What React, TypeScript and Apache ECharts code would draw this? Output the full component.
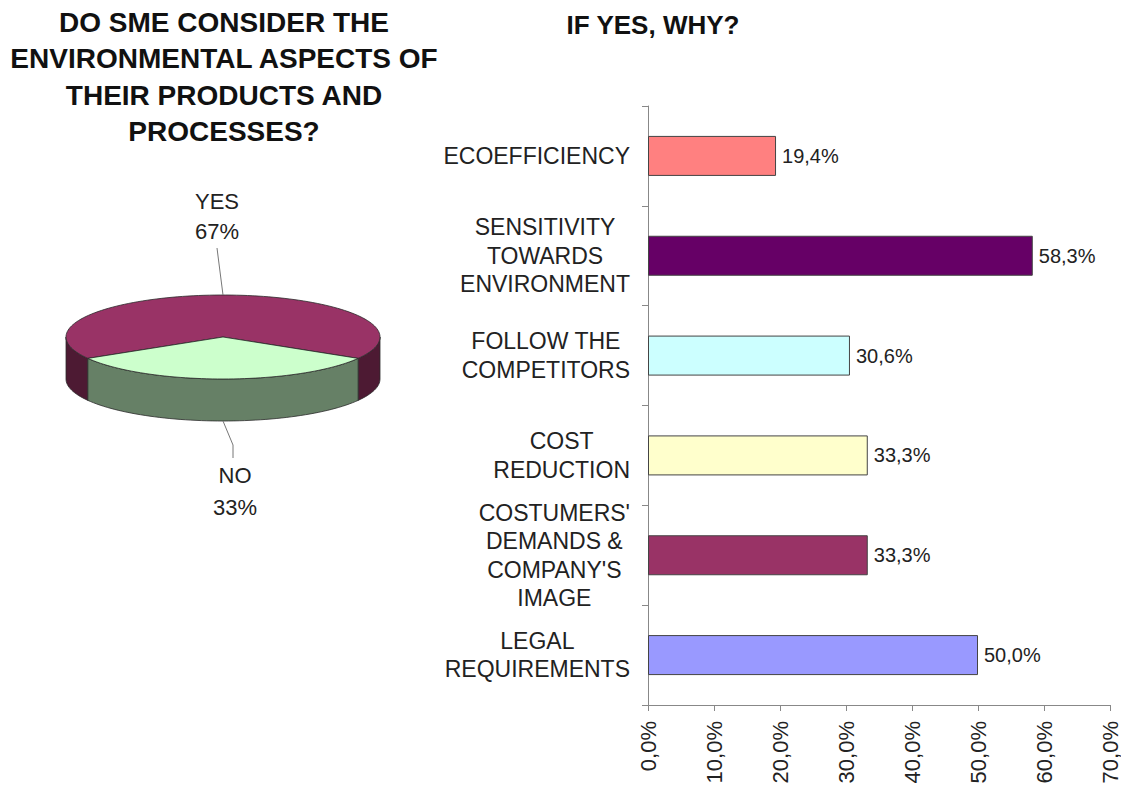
import React, { useEffect, useRef } from "react";
import * as echarts from "echarts";

const FONT = '"Liberation Sans", Arial, sans-serif';

// Pie data
const pieNames = ["YES", "NO"];
const pieValues = [67, 33];
const pieTopColors = ["#993366", "#ccffcc"];
const pieSideColors = ["#4d1a33", "#668066"];

// Bar data
const barCategories = [
  "ECOEFFICIENCY",
  "SENSITIVITY\nTOWARDS\nENVIRONMENT",
  "FOLLOW THE\nCOMPETITORS",
  "COST\nREDUCTION",
  "COSTUMERS'\nDEMANDS &\nCOMPANY'S\nIMAGE",
  "LEGAL\nREQUIREMENTS",
];
const barValues = [19.4, 58.3, 30.6, 33.3, 33.3, 50.0];
const barColors = ["#ff8080", "#660066", "#ccffff", "#ffffcc", "#993366", "#9999ff"];
const xMin = 0;
const xMax = 70;
const xInterval = 10;

const leftTitle = "DO SME CONSIDER THE\nENVIRONMENTAL ASPECTS OF\nTHEIR PRODUCTS AND\nPROCESSES?";
const rightTitle = "IF YES, WHY?";

const fmtPct = (v: number) => v.toFixed(1).replace(".", ",") + "%";

// Pie geometry (layout)
const PIE = { cx: 223, cy: 337, rx: 157, ry: 42, depth: 42 };

function ellPt(t: number, dy = 0): number[] {
  const r = (t * Math.PI) / 180;
  return [PIE.cx + PIE.rx * Math.cos(r), PIE.cy + PIE.ry * Math.sin(r) + dy];
}

function arcPts(a: number, b: number, dy = 0): number[][] {
  const pts: number[][] = [];
  const n = Math.max(2, Math.ceil(Math.abs(b - a) / 2));
  for (let i = 0; i <= n; i++) pts.push(ellPt(a + ((b - a) * i) / n, dy));
  return pts;
}

function sliceAngles() {
  const total = pieValues.reduce((s, v) => s + v, 0);
  const last = pieValues[pieValues.length - 1];
  let start = 90 + (180 * last) / total;
  return pieValues.map((v) => {
    const a = start;
    const b = start + (360 * v) / total;
    start = b;
    return [a, b, v / total];
  });
}

export default function App() {
  const ref = useRef<HTMLDivElement>(null);
  useEffect(() => {
    if (!ref.current) return;
    const chart = echarts.init(ref.current, null, { renderer: "svg" });
    const angles = sliceAngles();

    const renderPie = (params: any) => {
      const i = params.dataIndex;
      const [a, b] = angles[i];
      const children: any[] = [];
      const stroke = "#2b2b2b";
      // visible side faces: intersections with [0,180] + 360k
      for (let k = -1; k <= 1; k++) {
        const lo = Math.max(a, 360 * k);
        const hi = Math.min(b, 360 * k + 180);
        if (hi > lo) {
          const top = arcPts(lo, hi, 0);
          const bot = arcPts(hi, lo, PIE.depth);
          children.push({
            type: "polygon",
            shape: { points: top.concat(bot) },
            style: { fill: pieSideColors[i], stroke, lineWidth: 0.8 },
          });
        }
      }
      // top face
      children.push({
        type: "polygon",
        shape: { points: [[PIE.cx, PIE.cy]].concat(arcPts(a, b, 0)) },
        style: { fill: pieTopColors[i], stroke, lineWidth: 0.8 },
      });
      // label + leader
      const m = (a + b) / 2;
      const sinM = Math.sin((m * Math.PI) / 180);
      const pct = Math.round(pieValues[i]) + "%";
      if (sinM < 0) {
        const p = ellPt(m, 0);
        children.push({
          type: "polyline",
          shape: { points: [p, [p[0] - 6, p[1] - 47]] },
          style: { stroke: "#777", lineWidth: 1, fill: null },
        });
        children.push({
          type: "text",
          x: p[0] - 6,
          y: p[1] - 49,
          style: {
            text: pieNames[i] + "\n" + pct,
            align: "center",
            verticalAlign: "bottom",
            fontSize: 22,
            lineHeight: 30,
            fontFamily: FONT,
            fill: "#222",
          },
        });
      } else {
        const p = ellPt(m, PIE.depth);
        children.push({
          type: "polyline",
          shape: { points: [p, [p[0] + 10, p[1] + 24], [p[0] + 10, p[1] + 37]] },
          style: { stroke: "#777", lineWidth: 1, fill: null },
        });
        children.push({
          type: "text",
          x: p[0] + 12,
          y: p[1] + 38,
          style: {
            text: pieNames[i] + "\n" + pct,
            align: "center",
            verticalAlign: "top",
            fontSize: 22,
            lineHeight: 32,
            fontFamily: FONT,
            fill: "#222",
          },
        });
      }
      return { type: "group", children };
    };

    chart.setOption({
      animation: false,
      backgroundColor: "#ffffff",
      textStyle: { fontFamily: FONT },
      graphic: [
        {
          type: "text",
          x: 224,
          y: 4,
          style: {
            text: leftTitle,
            align: "center",
            verticalAlign: "top",
            fontSize: 28,
            fontWeight: "bold",
            lineHeight: 36.5,
            fontFamily: FONT,
            fill: "#111",
          },
        },
        {
          type: "text",
          x: 653,
          y: 7,
          style: {
            text: rightTitle,
            align: "center",
            verticalAlign: "top",
            fontSize: 26,
            fontWeight: "bold",
            lineHeight: 36,
            fontFamily: FONT,
            fill: "#111",
          },
        },
      ],
      grid: { left: 648, right: 11, top: 106, bottom: 88, containLabel: false },
      xAxis: {
        type: "value",
        min: xMin,
        max: xMax,
        interval: xInterval,
        splitLine: { show: false },
        axisLine: { show: true, lineStyle: { color: "#888", width: 1 } },
        axisTick: { show: true, length: 6, lineStyle: { color: "#888" } },
        axisLabel: {
          rotate: 90,
          margin: 16,
          fontSize: 22,
          color: "#222",
          fontFamily: FONT,
          formatter: (v: number) => fmtPct(v),
        },
      },
      yAxis: {
        type: "category",
        data: barCategories,
        inverse: true,
        axisLine: { show: true, lineStyle: { color: "#888", width: 1 } },
        axisTick: { show: true, length: 6, lineStyle: { color: "#888" } },
        axisLabel: {
          interval: 0,
          margin: 18,
          align: "right",
          formatter: (v: string) =>
            v
              .split("\n")
              .map((l) => `{c|${l}}`)
              .join("\n"),
          rich: {
            c: {
              align: "center",
              fontSize: 23,
              lineHeight: 28.5,
              color: "#222",
              fontFamily: FONT,
            },
          },
        },
      },
      series: [
        {
          type: "bar",
          barWidth: 40,
          data: barValues.map((v, i) => ({
            value: v,
            itemStyle: { color: barColors[i], borderColor: "#444", borderWidth: 1 },
          })),
          label: {
            show: true,
            position: "right",
            distance: 6,
            fontSize: 20,
            color: "#222",
            fontFamily: FONT,
            formatter: (p: any) => fmtPct(p.value),
          },
        },
        {
          type: "custom",
          coordinateSystem: "none",
          silent: true,
          clip: false,
          renderItem: renderPie,
          data: pieValues.map((v, i) => ({ name: pieNames[i], value: v })),
        },
      ],
    });
    return () => chart.dispose();
  }, []);
  return (
    <div
      ref={ref}
      style={{ position: "fixed", left: 0, top: 0, width: 1121, height: 793, background: "#fff" }}
    />
  );
}
